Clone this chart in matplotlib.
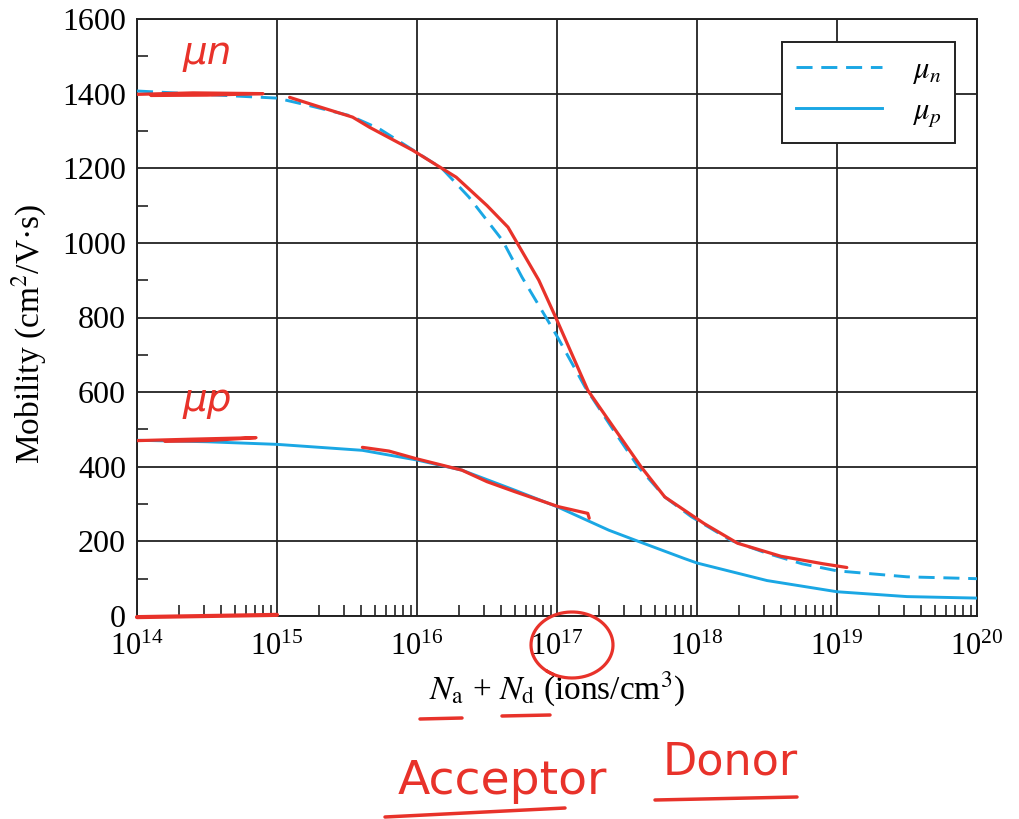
import numpy as np
import matplotlib
matplotlib.use("Agg")
import matplotlib.pyplot as plt
from matplotlib.ticker import LogLocator, MultipleLocator, NullFormatter

plt.rcParams['font.family'] = ['Liberation Serif', 'DejaVu Serif']
plt.rcParams['mathtext.fontset'] = 'stix'

# doping (log10 of Na + Nd) and mobilities
n_log = [14.0, 15.0, 15.23, 15.52, 15.73, 16.0, 16.18, 16.37, 16.61, 16.75, 16.92,
         17.0, 17.2, 17.4, 17.58, 17.77, 17.96, 18.24, 18.5, 18.75, 19.0, 19.5, 20.0]
mu_n = [1407, 1388, 1368, 1341, 1306, 1242, 1199, 1123, 1007, 908, 801,
        750, 614, 500, 400, 319, 266, 203, 168, 140, 121, 105, 100]

p_log = [14.0, 14.5, 15.0, 15.61, 16.0, 16.32, 16.70, 17.0, 17.37, 17.56, 17.91,
         18.0, 18.5, 19.0, 19.5, 20.0]
mu_p = [471, 467, 460, 444, 418, 391, 337, 293, 230, 203, 154,
        142, 95, 65, 52, 48]

# red hand-drawn traces over the curves
red_n1_log = [14.0, 14.4, 14.9, 14.5, 14.1]
red_n1 = [1398, 1402, 1400, 1396, 1395]
red_n2_log = [15.09, 15.3, 15.54, 15.66, 15.97, 16.28, 16.5, 16.65, 16.87, 16.99,
              17.22, 17.6, 17.77, 18.05, 18.29, 18.6, 18.9, 19.07]
red_n2 = [1390, 1365, 1337, 1310, 1248, 1176, 1100, 1042, 900, 801,
          605, 400, 319, 248, 195, 160, 140, 130]
red_p1_log = [14.0, 14.4, 14.85, 14.5, 14.2]
red_p1 = [470, 474, 478, 470, 468]
red_p2_log = [15.61, 15.8, 15.99, 16.32, 16.5, 16.70, 17.01, 17.22, 17.23]
red_p2 = [452, 442, 422, 391, 360, 333, 293, 275, 262]

blue = '#1aa7e4'
red = '#e8322a'

fig = plt.figure(figsize=(10.2, 8.19), dpi=100)
ax = fig.add_axes([137 / 1020, (819 - 616) / 819, 840 / 1020, 597 / 819])

ax.plot(10 ** np.array(n_log), mu_n, color=blue, lw=2.1, ls=(0, (5.5, 3)), label=r'$\mu_n$', zorder=3)
ax.plot(10 ** np.array(p_log), mu_p, color=blue, lw=2.1, label=r'$\mu_p$', zorder=3)

for xs, ys in [(red_n1_log, red_n1), (red_n2_log, red_n2), (red_p1_log, red_p1), (red_p2_log, red_p2)]:
    ax.plot(10 ** np.array(xs), ys, color=red, lw=2.3, solid_capstyle='round', zorder=4)
ax.plot([1e14, 1e15], [-3, 3], color=red, lw=3, solid_capstyle='round', clip_on=False, zorder=4)

ax.set_xscale('log')
ax.set_xlim(1e14, 1e20)
ax.set_ylim(0, 1600)
ax.xaxis.set_major_locator(LogLocator(base=10, numticks=10))
ax.xaxis.set_minor_locator(LogLocator(base=10, subs=np.arange(2, 10), numticks=20))
ax.xaxis.set_minor_formatter(NullFormatter())
ax.yaxis.set_major_locator(MultipleLocator(200))
ax.yaxis.set_minor_locator(MultipleLocator(100))
ax.grid(True, which='major', color='#222222', lw=1.3)
ax.set_axisbelow(True)
ax.tick_params(which='major', length=0, pad=8, labelsize=23)
ax.tick_params(axis='x', which='major', pad=12, labelsize=22)
ax.tick_params(which='minor', direction='in', length=8, width=1.2, color='#222222')
for s in ax.spines.values():
    s.set_color('#222222')
    s.set_linewidth(1.4)

ax.set_ylabel('Mobility (cm$^2$/V·s)', fontsize=24)
ax.yaxis.set_label_coords(-0.105, 0.472)
ax.set_xlabel(r'$N_\mathrm{a}$ + $N_\mathrm{d}$ (ions/cm$^3$)', fontsize=24, labelpad=6)

leg = ax.legend(loc='upper right', bbox_to_anchor=(0.974, 0.961), borderaxespad=0, fontsize=22,
                handlelength=2.8, handletextpad=1.0, borderpad=0.45, labelspacing=0.35,
                fancybox=False, framealpha=1)
leg.get_frame().set_edgecolor('#222222')
leg.get_frame().set_linewidth(1.4)

# hand-written annotations
ax.text(10 ** 14.5, 1510, 'μn', color=red, fontsize=28, style='italic', family='DejaVu Sans', ha='center', va='center')
ax.text(10 ** 14.5, 580, 'μp', color=red, fontsize=28, style='italic', family='DejaVu Sans', ha='center', va='center')


def fpx(x, y):
    return x / 1020, 1 - y / 819


t = np.linspace(0.15 * np.pi, 2.2 * np.pi, 80)
cx, cy = 572 + 41 * np.cos(t + 1.6), 645 + 33 * np.sin(t + 1.6)
fig.add_artist(plt.Line2D(*zip(*[fpx(a, b) for a, b in zip(cx, cy)]), color=red, lw=2.3))
for (x0, y0), (x1, y1) in [((420, 719), (462, 718)), ((502, 716), (550, 715)),
                           ((385, 817), (565, 808)), ((655, 800), (797, 797))]:
    fig.add_artist(plt.Line2D([fpx(x0, y0)[0], fpx(x1, y1)[0]], [fpx(x0, y0)[1], fpx(x1, y1)[1]],
                              color=red, lw=2.5, solid_capstyle='round'))
fig.text(*fpx(502, 782), 'Acceptor', color=red, fontsize=34, family='DejaVu Sans', ha='center', va='center')
fig.text(*fpx(730, 762), 'Donor', color=red, fontsize=32, family='DejaVu Sans', ha='center', va='center')

fig.savefig('out.png', dpi=100)
